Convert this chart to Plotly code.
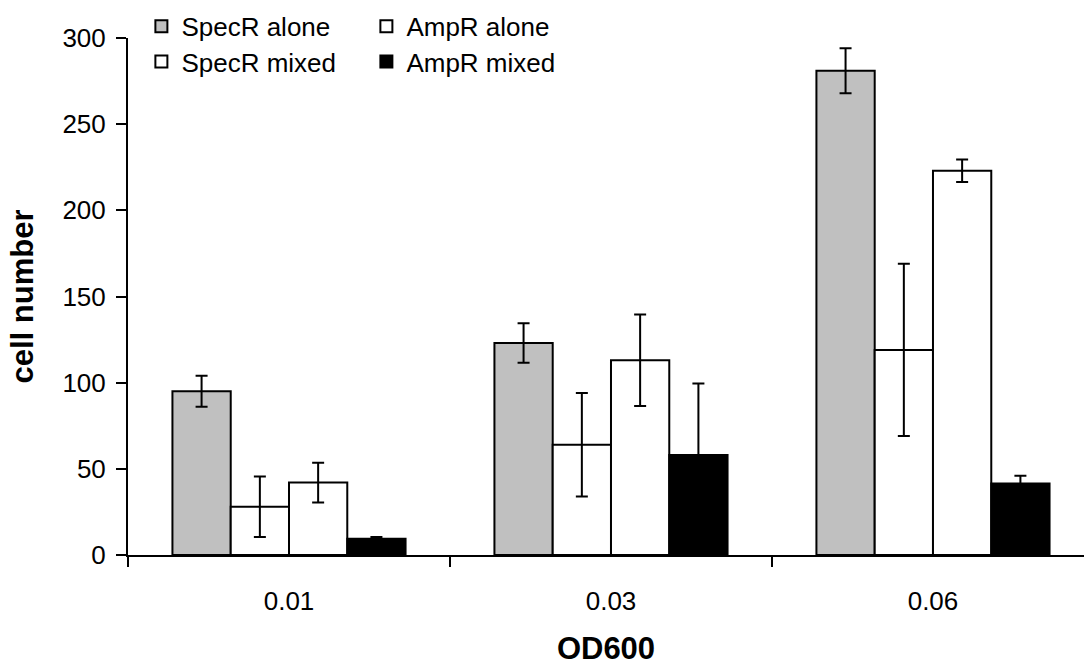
import plotly.graph_objects as go

categories = ["0.01", "0.03", "0.06"]
spec_alone = [95, 123, 281]
spec_alone_err = [9, 11.5, 13]
spec_mixed = [28, 64, 119]
spec_mixed_err = [17.5, 30, 50]
amp_alone = [42, 113, 223]
amp_alone_err = [11.5, 26.5, 6.5]
amp_mixed = [9.5, 58, 41.5]
amp_mixed_err = [1, 41.5, 4.5]

FONT = "Arial, Liberation Sans, sans-serif"

series = [
    ("SpecR alone", spec_alone, spec_alone_err, "#c0c0c0", "legend", 1),
    ("SpecR mixed", spec_mixed, spec_mixed_err, "#ffffff", "legend2", 1),
    ("AmpR alone", amp_alone, amp_alone_err, "#ffffff", "legend", 2),
    ("AmpR mixed", amp_mixed, amp_mixed_err, "#000000", "legend2", 2),
]

fig = go.Figure()
for name, vals, errs, color, leg, rank in series:
    fig.add_trace(go.Bar(
        name=name, x=categories, y=vals,
        marker=dict(color=color, line=dict(color="black", width=2)),
        error_y=dict(type="data", array=errs, visible=True,
                     color="black", thickness=2, width=6),
        legend=leg, legendrank=rank,
    ))

fig.update_layout(
    width=1084, height=671,
    margin=dict(l=128, r=0, t=38, b=116),
    paper_bgcolor="white", plot_bgcolor="white",
    barmode="group", bargap=0.276, bargroupgap=0,
    font=dict(family=FONT, size=26, color="black"),
    showlegend=True,
    legend=dict(orientation="h", x=0.014, y=1.068, xanchor="left", yanchor="top",
                entrywidth=180, entrywidthmode="pixels",
                font=dict(size=26), bgcolor="rgba(0,0,0,0)", traceorder="normal"),
    legend2=dict(orientation="h", x=0.014, y=1.0, xanchor="left", yanchor="top",
                 entrywidth=180, entrywidthmode="pixels",
                 font=dict(size=26), bgcolor="rgba(0,0,0,0)", traceorder="normal"),
    xaxis=dict(
        type="category", range=[-0.5, 2.469],
        showline=True, linecolor="black", linewidth=2,
        ticks="outside", tickson="boundaries", ticklen=10, tickwidth=2, tickcolor="black",
        ticklabelstandoff=22,
        showgrid=False, zeroline=False,
        tickfont=dict(size=26),
        title=dict(text="<b>OD600</b>", font=dict(size=31), standoff=22),
    ),
    yaxis=dict(
        range=[0, 300], tickvals=[0, 50, 100, 150, 200, 250, 300],
        showline=True, linecolor="black", linewidth=2,
        ticks="outside", ticklen=10, tickwidth=2, tickcolor="black",
        ticklabelstandoff=5,
        showgrid=False, zeroline=False,
        tickfont=dict(size=26),
        title=dict(text="<b>cell number</b>", font=dict(size=31), standoff=20),
    ),
)

fig.write_html("out.html")
